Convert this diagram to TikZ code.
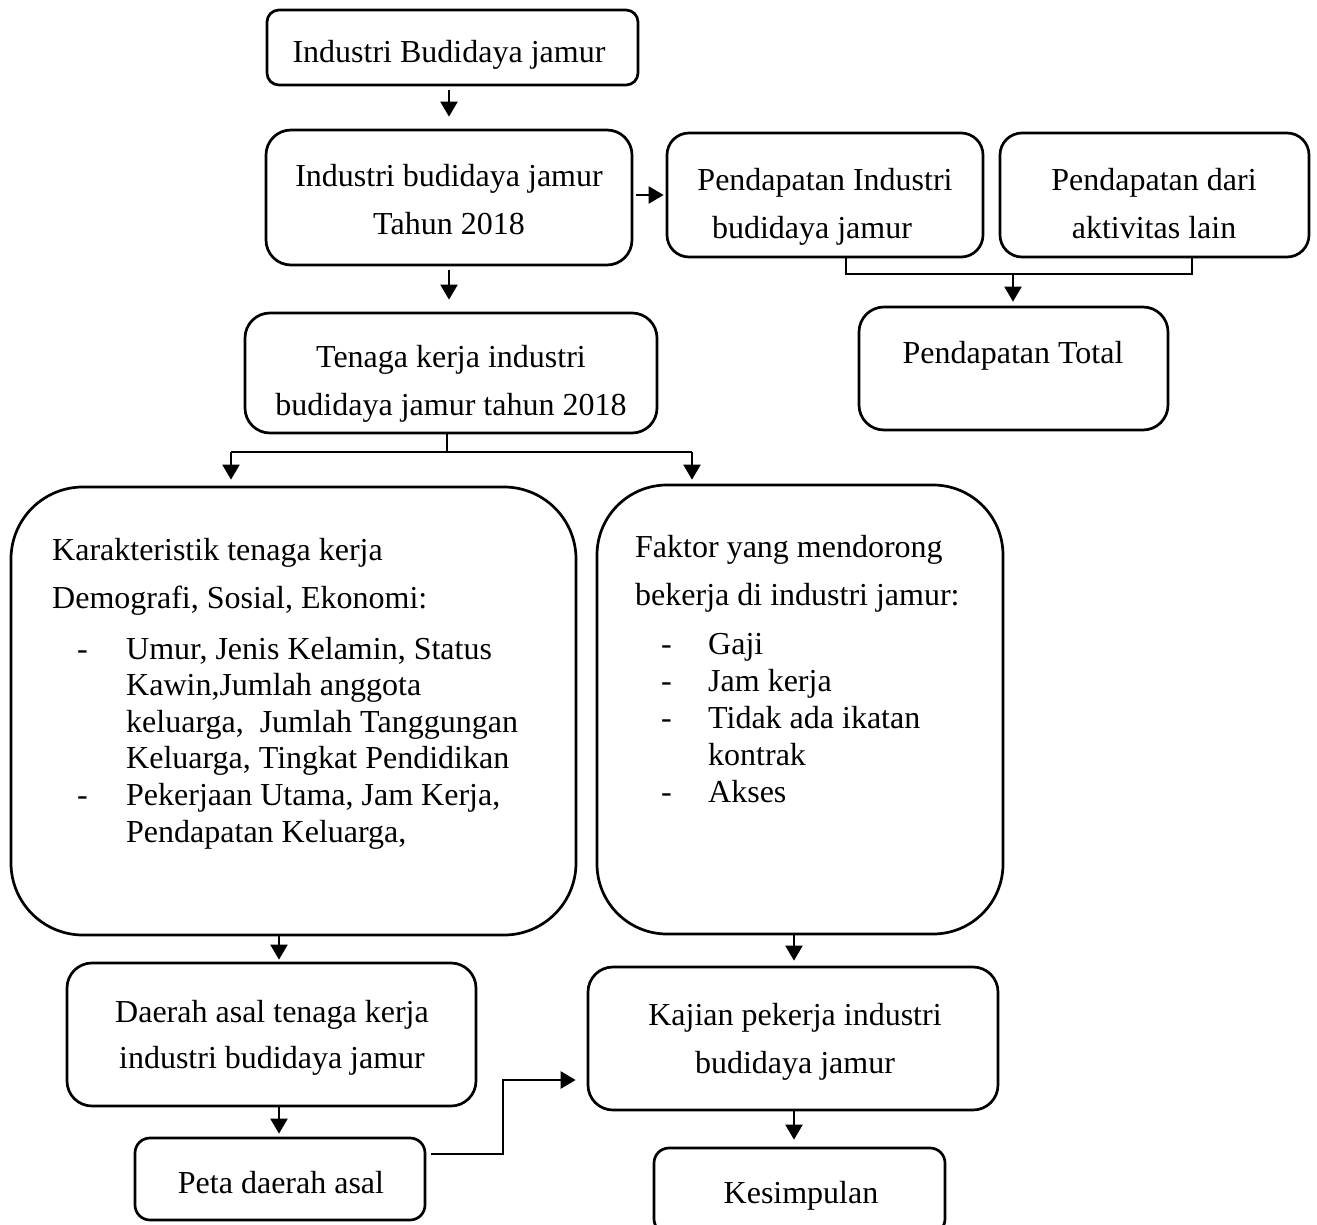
\documentclass[tikz,border=0pt]{standalone}
\usepackage{fontspec}
\setmainfont{Liberation Serif}
\usetikzlibrary{arrows.meta,calc}
\begin{document}
\begin{tikzpicture}[x=1pt,y=-1pt,
  box/.style={draw, line width=2.7pt, inner sep=0pt},
  txt/.style={inner sep=0pt, anchor=base, font=\fontsize{32pt}{36.6pt}\selectfont},
  ltxt/.style={txt, anchor=base west},
  arr/.style={line width=2.2pt, -{Triangle[length=15pt,width=17pt]}},
  ln/.style={line width=1.8pt}]
\clip (0,0) rectangle (1317,1225);
\fill[white] (0,0) rectangle (1317,1225);

% boxes
\node[box, rounded corners=12pt, minimum width=371pt, minimum height=75pt] (b1) at (452.5,47.5) {};
\node[box, rounded corners=25pt, minimum width=366pt, minimum height=135pt] (b2) at (449,197.5) {};
\node[box, rounded corners=22pt, minimum width=316pt, minimum height=124pt] (b3) at (825,195) {};
\node[box, rounded corners=22pt, minimum width=309pt, minimum height=124pt] (b4) at (1154.5,195) {};
\node[box, rounded corners=25pt, minimum width=309pt, minimum height=123pt] (b5) at (1013.5,368.5) {};
\node[box, rounded corners=25pt, minimum width=412pt, minimum height=120pt] (b6) at (451,373) {};
\node[box, rounded corners=72pt, minimum width=565pt, minimum height=448pt] (b7) at (293.5,711) {};
\node[box, rounded corners=70pt, minimum width=406pt, minimum height=449pt] (b8) at (800,709.5) {};
\node[box, rounded corners=25pt, minimum width=409pt, minimum height=143pt] (b9) at (271.5,1034.5) {};
\node[box, rounded corners=15pt, minimum width=290pt, minimum height=82pt] (b10) at (280,1179) {};
\node[box, rounded corners=25pt, minimum width=410pt, minimum height=143pt] (b11) at (793,1038.5) {};
\node[box, rounded corners=15pt, minimum width=291pt, minimum height=86pt] (b12) at (799.5,1191) {};

% texts
\node[txt] (t1) at (449,63) {Industri Budidaya jamur};
\node[txt] (t2a) at (449,187) {Industri budidaya jamur};
\node[txt] (t2b) at (449,235) {Tahun 2018};
\node[txt] (t3a) at (825,191) {Pendapatan Industri};
\node[txt] (t3b) at (812,238) {budidaya jamur};
\node[txt] (t4a) at (1154,191) {Pendapatan dari};
\node[txt] (t4b) at (1154,238) {aktivitas lain};
\node[txt] (t5) at (1013,363) {Pendapatan Total};
\node[txt] (t6a) at (451,367) {Tenaga kerja industri};
\node[txt] (t6b) at (451,415) {budidaya jamur tahun 2018};

\node[ltxt] (t7a) at (52,560) {Karakteristik tenaga kerja};
\node[ltxt] (t7b) at (52,608) {Demografi, Sosial, Ekonomi:};
\node[ltxt] (d71) at (77,659) {-};
\node[ltxt] (t71) at (126,659) {Umur, Jenis Kelamin, Status};
\node[ltxt] (t72) at (126,695.6) {Kawin,Jumlah anggota};
\node[ltxt] (t73) at (126,732.2) {keluarga,\ \ Jumlah Tanggungan};
\node[ltxt] (t74) at (126,768.8) {Keluarga, Tingkat Pendidikan};
\node[ltxt] (d72) at (77,805.4) {-};
\node[ltxt] (t75) at (126,805.4) {Pekerjaan Utama, Jam Kerja,};
\node[ltxt] (t76) at (126,842) {Pendapatan Keluarga,};

\node[ltxt] (t8a) at (635,557) {Faktor yang mendorong};
\node[ltxt] (t8b) at (635,605) {bekerja di industri jamur:};
\node[ltxt] (d81) at (661,654) {-};
\node[ltxt] (t81) at (708,654) {Gaji};
\node[ltxt] (d82) at (661,691) {-};
\node[ltxt] (t82) at (708,691) {Jam kerja};
\node[ltxt] (d83) at (661,728) {-};
\node[ltxt] (t83) at (708,728) {Tidak ada ikatan};
\node[ltxt] (t84) at (708,765) {kontrak};
\node[ltxt] (d84) at (661,802) {-};
\node[ltxt] (t85) at (708,802) {Akses};

\node[txt] (t9a) at (272,1022) {Daerah asal tenaga kerja};
\node[txt] (t9b) at (272,1068) {industri budidaya jamur};
\node[txt] (t10) at (281,1193) {Peta daerah asal};
\node[txt] (t11a) at (795,1025) {Kajian pekerja industri};
\node[txt] (t11b) at (795,1073) {budidaya jamur};
\node[txt] (t12) at (801,1203) {Kesimpulan};

% guide coordinates
\coordinate (xa) at (449,0);
\coordinate (xb) at (846,0);
\coordinate (xc) at (1192,0);
\coordinate (xm) at (1013,0);
\coordinate (ym) at (0,274);
\coordinate (xs) at (447,0);
\coordinate (ys) at (0,452);
\coordinate (xl) at (231,0);
\coordinate (xr) at (692,0);
\coordinate (xd) at (279,0);
\coordinate (xk) at (794,0);
\coordinate (yr) at (0,195);
\coordinate (yp) at (0,1154);
\coordinate (yq) at (0,1080);
\coordinate (xp) at (503,0);

% connectors
\draw[arr, shorten <=4pt, shorten >=12pt] (b1.south -| xa) -- (b2.north -| xa);
\draw[arr, shorten <=4pt, shorten >=12pt] (b2.south -| xa) -- (b6.north -| xa);
\draw[arr, shorten <=3pt, shorten >=2pt] (b2.east |- yr) -- (b3.west |- yr);
\draw[ln] (b3.south -| xb) -- (xb |- ym) -- (xc |- ym) -- (b4.south -| xc);
\draw[arr, shorten >=4pt] (xm |- ym) -- (b5.north -| xm);
\draw[ln] (b6.south -| xs) -- (xs |- ys);
\draw[ln] (xl |- ys) -- (xr |- ys);
\draw[arr, shorten >=6pt] (xl |- ys) -- (b7.north -| xl);
\draw[arr, shorten >=4pt] (xr |- ys) -- (b8.north -| xr);
\draw[arr, shorten >=2pt] (b7.south -| xd) -- (b9.north -| xd);
\draw[arr, shorten >=3pt] (b9.south -| xd) -- (b10.north -| xd);
\draw[arr, shorten >=5pt] (b8.south -| xk) -- (b11.north -| xk);
\draw[arr, shorten >=7pt] (b11.south -| xk) -- (b12.north -| xk);
\draw[arr, line width=2.6pt, shorten <=5pt, shorten >=11pt] (b10.east |- yp) -- (xp |- yp) -- (xp |- yq) -- (b11.west |- yq);
\end{tikzpicture}
\end{document}
